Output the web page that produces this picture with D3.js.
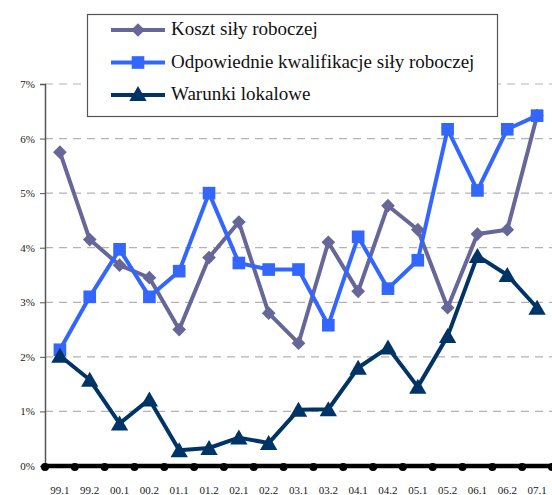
<!DOCTYPE html>
<html>
<head>
<meta charset="utf-8">
<script src="https://cdn.jsdelivr.net/npm/d3@7/dist/d3.min.js"></script>
<style>
  body { margin: 0; background: #fff; }
  svg { display: block; }
</style>
</head>
<body>
<svg id="chart" width="552" height="495"></svg>
<script>
var categories = ["99.1", "99.2", "00.1", "00.2", "01.1", "01.2", "02.1", "02.2", "03.1",
    "03.2", "04.1", "04.2", "05.1", "05.2", "06.1", "06.2", "07.1"];

var seriesNames = ["Koszt siły roboczej", "Odpowiednie kwalifikacje siły roboczej", "Warunki lokalowe"];

var koszt = [5.75, 4.15, 3.68, 3.45, 2.5, 3.82, 4.47, 2.8, 2.25, 4.1, 3.2, 4.77, 4.33, 2.9, 4.25, 4.33, 6.42];
var kwalifikacje = [2.13, 3.1, 3.97, 3.1, 3.57, 5.0, 3.72, 3.6, 3.6, 2.58, 4.2, 3.25, 3.77, 6.17, 5.05, 6.17, 6.42];
var warunki = [2.02, 1.58, 0.78, 1.22, 0.29, 0.33, 0.52, 0.42, 1.03, 1.04, 1.8, 2.17, 1.45, 2.38, 3.85, 3.5, 2.9];

var yTicks = [0, 1, 2, 3, 4, 5, 6, 7];

var series = [
    {name: seriesNames[0], values: koszt, color: "#666699", marker: "diamond"},
    {name: seriesNames[1], values: kwalifikacje, color: "#3366ff", marker: "square"},
    {name: seriesNames[2], values: warunki, color: "#003366", marker: "triangle"}
];

var FONT = "'Liberation Serif', 'Times New Roman', serif";

var svg = d3.select("#chart");
var plotLeft = 45, plotRight = 552, plotTop = 84, plotBottom = 466;

var x = d3.scaleBand().domain(categories).range([plotLeft, plotRight]);
var y = d3.scaleLinear().domain([0, 7]).range([plotBottom, plotTop]);

// siatka
svg.append("g").selectAll("line")
    .data(yTicks.filter(function (d) { return d > 0; }))
    .enter().append("line")
    .attr("x1", plotLeft).attr("x2", plotRight)
    .attr("y1", function (d) { return y(d); })
    .attr("y2", function (d) { return y(d); })
    .style("stroke", "#b3b3b3")
    .style("stroke-width", 1.2)
    .style("stroke-dasharray", "8,6");

// oś Y
var yAxis = svg.append("g")
    .attr("transform", "translate(" + plotLeft + ",0)")
    .call(d3.axisLeft(y).tickValues(yTicks).tickSize(5).tickPadding(5)
        .tickFormat(function (d) { return d + "%"; }));
yAxis.attr("font-family", FONT);
yAxis.select(".domain").style("stroke", "#555").style("stroke-width", 1.5);
yAxis.selectAll(".tick line").style("stroke", "#555");
yAxis.selectAll("text").style("font-size", "11px").style("fill", "#222");

// oś X
var xAxis = svg.append("g")
    .attr("transform", "translate(0," + plotBottom + ")")
    .call(d3.axisBottom(x).tickSize(0).tickPadding(20));
xAxis.attr("font-family", FONT);
xAxis.select(".domain").remove();
xAxis.selectAll("text").style("font-size", "11px").style("fill", "#222");

svg.append("line")
    .attr("x1", plotLeft - 2).attr("x2", plotRight)
    .attr("y1", plotBottom).attr("y2", plotBottom)
    .style("stroke", "#000").style("stroke-width", 4.5);

var bounds = categories.map(function (c) { return x(c); }).concat([x(categories[categories.length - 1]) + x.bandwidth()]);
svg.append("g").selectAll("circle")
    .data(bounds)
    .enter().append("circle")
    .attr("cx", function (d) { return d; })
    .attr("cy", plotBottom + 1)
    .attr("r", 4)
    .style("fill", "#000");

function cx(i) { return x(categories[i]) + x.bandwidth() / 2; }

var symbols = {
    diamond: d3.symbol().type(d3.symbolDiamond2).size(120),
    square: d3.symbol().type(d3.symbolSquare).size(160),
    triangle: d3.symbol().type(d3.symbolTriangle).size(130)
};

var line = d3.line()
    .x(function (d, i) { return cx(i); })
    .y(function (d) { return y(d); });

series.forEach(function (s) {
    var g = svg.append("g");
    g.append("path")
        .attr("d", line(s.values))
        .style("fill", "none")
        .style("stroke", s.color)
        .style("stroke-width", 4)
        .style("stroke-linejoin", "round");
    g.selectAll("path.mk")
        .data(s.values)
        .enter().append("path")
        .classed("mk", true)
        .attr("transform", function (d, i) {
            var off = s.marker == "triangle" ? 2 : 0;
            return "translate(" + cx(i) + "," + (y(d) + off) + ")";
        })
        .attr("d", symbols[s.marker])
        .style("fill", s.color);
});

// legenda
var lg = svg.append("g");
lg.append("rect")
    .attr("x", 87.5).attr("y", 14.5)
    .attr("width", 410).attr("height", 102)
    .style("fill", "#fff")
    .style("stroke", "#555")
    .style("stroke-width", 1.2);

var rowY = d3.scalePoint().domain(seriesNames).range([30, 95]);
series.forEach(function (s) {
    var yy = rowY(s.name);
    lg.append("line")
        .attr("x1", 111).attr("x2", 165)
        .attr("y1", yy).attr("y2", yy)
        .style("stroke", s.color).style("stroke-width", 4);
    lg.append("path")
        .attr("transform", "translate(138," + (yy + (s.marker == "triangle" ? 1 : 0)) + ")")
        .attr("d", symbols[s.marker])
        .style("fill", s.color);
    lg.append("text")
        .attr("x", 171).attr("y", yy + 5)
        .attr("font-family", FONT)
        .style("font-size", "19px")
        .style("fill", "#111")
        .text(s.name);
});
</script>
</body>
</html>
